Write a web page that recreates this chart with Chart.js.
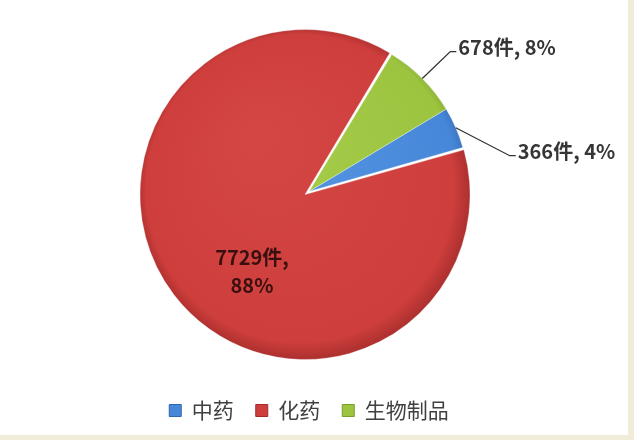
<!DOCTYPE html>
<html>
<head>
<meta charset="utf-8">
<script src="https://cdn.jsdelivr.net/npm/chart.js@4.4.0/dist/chart.umd.min.js"></script>
<style>
  html, body { margin: 0; padding: 0; background: #f1ebda; }
  #wrap { position: relative; width: 634px; height: 440px; }
  #paper { position: absolute; left: 0; top: 0; width: 628px; height: 435px; background: #fff; }
  #pie-chart { position: absolute; left: 0; top: 0; }
</style>
</head>
<body>
<div id="wrap">
  <div id="paper"></div>
  <canvas id="pie-chart" width="634" height="440"></canvas>
</div>
<script>
const categories = ['中药', '化药', '生物制品'];
const counts = [366, 7729, 678];

const sliceColors = ['#4787d9', '#cd3e3c', '#9cc43f'];
const lightColors = ['#5595e2', '#d44643', '#a6cc4b'];
const rimColors = ['#2f66ad', '#a32c2b', '#7a9e2c'];

const PIE_RADIUS = 160;

function sliceFill(context) {
  const i = context.dataIndex;
  const chart = context.chart;
  const area = chart.chartArea;
  if (!area) return sliceColors[i];
  const cx = (area.left + area.right) / 2;
  const cy = (area.top + area.bottom) / 2;
  const g = chart.ctx.createRadialGradient(cx - 50, cy - 60, 10, cx, cy, PIE_RADIUS + 10);
  g.addColorStop(0, lightColors[i]);
  g.addColorStop(0.9, sliceColors[i]);
  g.addColorStop(1, rimColors[i]);
  return g;
}

// value labels: outside ones get a leader line, the big slice is labelled inside
const sliceLabels = {
  id: 'sliceLabels',
  afterDatasetsDraw(chart, args, opts) {
    const ctx = chart.ctx;
    const meta = chart.getDatasetMeta(0);
    const total = counts.reduce((a, b) => a + b, 0);
    meta.data.forEach((arc, i) => {
      const p = arc.getProps(['x', 'y', 'startAngle', 'endAngle', 'outerRadius'], true);
      const mid = (p.startAngle + p.endAngle) / 2;
      const pct = Math.round(counts[i] / total * 100);
      const place = opts.place[i];
      ctx.save();
      ctx.font = opts.font;
      ctx.textBaseline = 'middle';
      if (place.inside) {
        ctx.fillStyle = opts.innerColor;
        ctx.textAlign = 'center';
        const lx = p.x + place.dx;
        const ly = p.y + place.dy;
        ctx.fillText(counts[i] + '件,', lx, ly - place.gap / 2);
        ctx.fillText(pct + '%', lx, ly + place.gap / 2);
      } else {
        const ex = p.x + Math.cos(mid) * p.outerRadius;
        const ey = p.y + Math.sin(mid) * p.outerRadius;
        const bx = ex + place.dx;
        const by = ey + place.dy;
        ctx.strokeStyle = '#333';
        ctx.lineWidth = 1.3;
        ctx.beginPath();
        ctx.moveTo(ex, ey);
        ctx.lineTo(bx, by);
        ctx.lineTo(bx + 6, by);
        ctx.stroke();
        ctx.fillStyle = opts.outerColor;
        ctx.textAlign = 'left';
        ctx.fillText(counts[i] + '件, ' + pct + '%', bx + 8, by - 4);
      }
      ctx.restore();
    });
  }
};

new Chart(document.getElementById('pie-chart'), {
  type: 'pie',
  data: {
    labels: categories,
    datasets: [{
      data: counts,
      backgroundColor: sliceFill,
      borderColor: 'rgba(255, 255, 255, 0.3)',
      borderWidth: 1,
      offset: [0, 20, 0],
      radius: PIE_RADIUS
    }]
  },
  options: {
    responsive: false,
    animation: false,
    rotation: 59,
    layout: {
      padding: { top: 5, bottom: 9, left: 0, right: 16 }
    },
    plugins: {
      tooltip: { enabled: false },
      legend: {
        position: 'bottom',
        labels: {
          boxWidth: 12,
          boxHeight: 12,
          padding: 22,
          color: '#404040',
          font: { size: 21, family: '"Noto Sans CJK SC", sans-serif' },
          generateLabels: () => categories.map((text, i) => ({
            text,
            fillStyle: sliceColors[i],
            strokeStyle: rimColors[i],
            lineWidth: 1,
            hidden: false,
            index: i,
            fontColor: '#404040'
          }))
        }
      },
      sliceLabels: {
        font: 'bold 20px "Noto Sans CJK SC", sans-serif',
        outerColor: '#363636',
        innerColor: '#3a0f0f',
        place: [
          { dx: 54, dy: 28 },
          { inside: true, dx: -57, dy: 80, gap: 28 },
          { dx: 28, dy: -27 }
        ]
      }
    }
  },
  plugins: [sliceLabels]
});
</script>
</body>
</html>
